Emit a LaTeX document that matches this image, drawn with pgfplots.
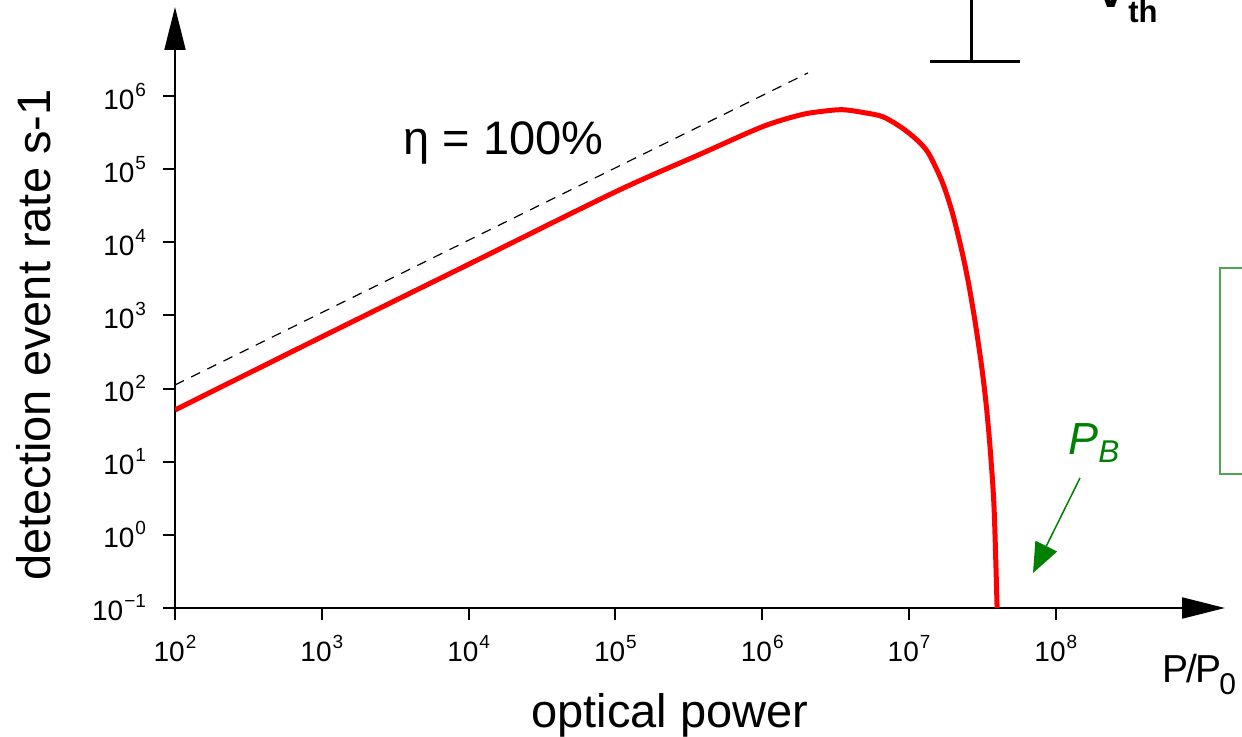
\documentclass[border=0pt]{standalone}
\usepackage{fontspec}
\setmainfont{Liberation Sans}
\usepackage{pgfplots}
\pgfplotsset{compat=1.18}
\usetikzlibrary{arrows.meta}
\definecolor{pbgreen}{RGB}{0,128,0}
\definecolor{brgreen}{RGB}{80,165,80}
% tick label: 10 with a raised exponent, always in text mode
\newcommand\tl[1]{\hbox{\fontsize{14}{16}\selectfont 10\kern0.5pt\raisebox{6.5pt}{\fontsize{9.5}{10}\selectfont #1}}}

\begin{document}
\begin{tikzpicture}[x=0.5pt,y=0.5pt]
\useasboundingbox (-175,-129) rectangle (1067,608);
\clip (-175,-129) rectangle (1067,608);
\begin{axis}[
    at={(0,0)}, anchor=south west,
    scale only axis,
    width=525pt, height=300.5pt,
    xmode=log, ymode=log,
    xmin=1e2, xmax=1.42e9,
    ymin=0.1, ymax=1.65e7,
    axis lines=left,
    axis line style={line width=1pt, -{Triangle[length=21.5pt,width=10.5pt]}},
    tick style={line width=1pt, black},
    tick align=outside,
    major tick length=6pt,
    xminorticks=false, yminorticks=false,
    xtick={1e2,1e3,1e4,1e5,1e6,1e7,1e8},
    xticklabels={\tl{2},\tl{3},\tl{4},\tl{5},\tl{6},\tl{7},\tl{8}},
    ytick={1e-1,1e0,1e1,1e2,1e3,1e4,1e5,1e6},
    yticklabels={\tl{−1},\tl{0},\tl{1},\tl{2},\tl{3},\tl{4},\tl{5},\tl{6}},
    xticklabel style={yshift=-4pt},
    yticklabel style={xshift=-5pt},
    xlabel={optical power},
    xlabel style={at={(axis description cs:0.4714,0)}, anchor=base, yshift=-59.5pt,
        font=\fontsize{23.5}{28}\selectfont},
    ylabel={detection event rate s-1},
    ylabel style={at={(axis description cs:-0.119,0.4542)}, anchor=base,
        font=\fontsize{23.5}{28}\selectfont},
]
% eta = 100% reference line
\addplot[black, line width=0.6pt, dash pattern=on 5pt off 4pt]
    coordinates {(1e2,112) (2.05e6,2.07e6)};
% detection event rate
\addplot[red, line width=2.5pt, smooth, tension=0.5] coordinates {
    (1e2,51) (1e3,510) (1e4,5.0e3) (1e5,4.9e4) (3.77e5,1.6e5)
    (1e6,3.8e5) (1.81e6,5.5e5) (2.6e6,6.2e5) (3.55e6,6.5e5) (5e6,5.9e5)
    (6.65e6,5.2e5) (8.9e6,3.7e5) (1.135e7,2.5e5) (1.35e7,1.68e5)
    (1.626e7,7.9e4) (1.80e7,4.6e4) (2.0e7,2.3e4) (2.28e7,7.9e3)
    (2.53e7,2.9e3) (2.81e7,850) (3.12e7,204) (3.37e7,55)
    (3.59e7,13) (3.80e7,2.2) (3.98e7,0.1)
};
\end{axis}

\node[anchor=base west, inner sep=0, font=\fontsize{23.5}{28}\selectfont] at (228,453) {η = 100\%};
\node[anchor=base west, inner sep=0, text=pbgreen, font=\fontsize{22.5}{26}\selectfont\itshape]
    at (893,153) {P\textsubscript{B}};
\draw[pbgreen, line width=0.75pt, -{Triangle[length=15pt,width=12pt]}] (905,130) -- (858,35);
\draw[brgreen, line width=0.9pt] (1067,340) -- (1045,340) -- (1045,134) -- (1067,134);
% symbol at the top
\draw[line width=1.5pt] (796,546) -- (796,620);
\draw[line width=1.5pt] (755,546) -- (845,546);
\draw[line width=1.5pt, gray] (775,609) -- (822,609);
\node[anchor=base west, inner sep=0, font=\fontsize{25}{30}\selectfont\bfseries] at (919,600) {V};
\node[anchor=base west, inner sep=0, font=\fontsize{15.5}{18}\selectfont\bfseries] at (953,585) {th};
\node[anchor=base west, inner sep=0, font=\fontsize{19.5}{24}\selectfont] at (987,-75) {P\kern-1pt/\kern-1ptP};
\node[anchor=base west, inner sep=0, font=\fontsize{15}{18}\selectfont] at (1044,-87) {0};
\end{tikzpicture}
\end{document}
